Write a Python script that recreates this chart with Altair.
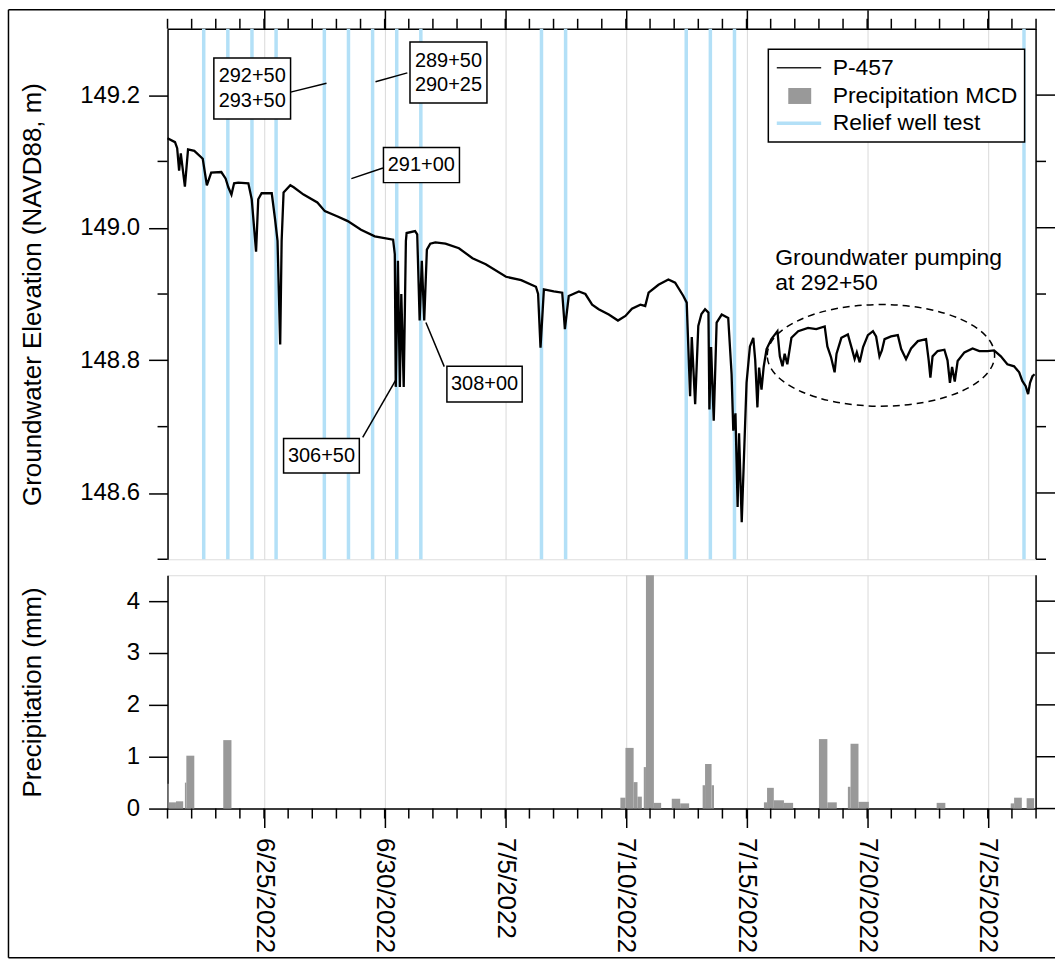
import altair as alt
import pandas as pd

FONT = "Liberation Sans"
T0 = pd.Timestamp("2022-06-21")

# ---------------- P-457 groundwater elevation ----------------
# elapsed days since 2022-06-21 00:00 and elevation (m, NAVD88)
p457_day = [
    0.00, 0.31, 0.40, 0.48, 0.55, 0.72, 0.85, 1.11, 1.46, 1.63, 1.81, 2.23, 2.41, 2.52, 2.65,
    2.76, 2.93, 3.35, 3.49, 3.67, 3.76, 3.90, 4.32, 4.46, 4.56, 4.67, 4.73, 4.81, 5.09, 5.23,
    5.64, 6.21, 6.52, 7.05, 7.47, 8.02, 8.59, 9.35, 9.42, 9.46, 9.55, 9.63, 9.69, 9.79, 9.88,
    9.91, 10.26, 10.35, 10.45, 10.54, 10.64, 10.75, 10.89, 11.10, 11.52, 12.08, 12.64, 13.19,
    14.03, 14.66, 15.27, 15.36, 15.46, 15.60, 16.01, 16.36, 16.47, 16.63, 17.05, 17.32, 17.60,
    17.87, 18.29, 18.67, 18.98, 19.25, 19.60, 19.80, 19.94, 20.35, 20.76, 21.04, 21.38, 21.52,
    21.66, 21.73, 21.87, 22.00, 22.13, 22.28, 22.42, 22.46, 22.53, 22.64, 22.76, 22.97, 23.24,
    23.38, 23.45, 23.54, 23.63, 23.69, 23.80, 23.88, 24.00, 24.14, 24.28, 24.36, 24.45, 24.52,
    24.62, 24.71, 24.83, 25.03, 25.28, 25.38, 25.49, 25.58, 25.69, 25.86, 26.14, 26.55, 26.89,
    27.24, 27.35, 27.50, 27.65, 27.73, 27.93, 28.20, 28.37, 28.48, 28.57, 28.69, 28.83, 29.03,
    29.24, 29.37, 29.51, 29.61, 29.72, 29.99, 30.27, 30.41, 30.61, 30.82, 31.10, 31.44, 31.55,
    31.62, 31.71, 31.92, 32.20, 32.33, 32.43, 32.52, 32.63, 32.75, 33.03, 33.37, 33.65, 33.99,
    34.26, 34.54, 34.81, 35.09, 35.30, 35.43, 35.57, 35.67, 35.75, 35.85, 35.94,
]
p457_elev = [
    149.135, 149.129, 149.120, 149.086, 149.112, 149.062, 149.118, 149.116, 149.104, 149.064,
    149.083, 149.084, 149.074, 149.061, 149.050, 149.067, 149.068, 149.067, 149.043, 148.964,
    149.043, 149.052, 149.052, 149.012, 148.980, 148.824, 148.980, 149.053, 149.064, 149.061,
    149.050, 149.038, 149.025, 149.017, 149.010, 148.997, 148.987, 148.982, 148.960, 148.760,
    148.950, 148.760, 148.900, 148.760, 148.980, 148.992, 148.995, 148.990, 148.860, 148.950,
    148.860, 148.967, 148.976, 148.978, 148.976, 148.969, 148.954, 148.945, 148.926, 148.921,
    148.911, 148.900, 148.819, 148.907, 148.904, 148.902, 148.847, 148.897, 148.904, 148.900,
    148.884, 148.877, 148.869, 148.860, 148.867, 148.878, 148.884, 148.882, 148.902, 148.914,
    148.922, 148.917, 148.897, 148.887, 148.746, 148.835, 148.734, 148.852, 148.870, 148.877,
    148.872, 148.726, 148.820, 148.709, 148.857, 148.869, 148.864, 148.779, 148.694, 148.720,
    148.579, 148.690, 148.556, 148.640, 148.766, 148.821, 148.834, 148.800, 148.729, 148.789,
    148.756, 148.790, 148.817, 148.832, 148.844, 148.806, 148.791, 148.810, 148.794, 148.834,
    148.844, 148.849, 148.847, 148.851, 148.821, 148.805, 148.782, 148.810, 148.834, 148.839,
    148.817, 148.802, 148.812, 148.797, 148.820, 148.838, 148.844, 148.836, 148.806, 148.815,
    148.832, 148.836, 148.838, 148.817, 148.802, 148.818, 148.829, 148.832, 148.800, 148.774,
    148.806, 148.814, 148.816, 148.800, 148.766, 148.790, 148.768, 148.799, 148.812, 148.818,
    148.814, 148.814, 148.815, 148.806, 148.794, 148.791, 148.782, 148.769, 148.761, 148.749,
    148.766, 148.776, 148.779,
]

# ---------------- Precipitation at MCD ----------------
# each bar covers [start, end] in elapsed days since 2022-06-21 00:00
precip_start = [0.00, 0.05, 0.35, 0.72, 0.78, 2.31, 18.77, 18.98, 19.32, 19.48, 19.74, 19.83,
                20.16, 20.90, 21.25, 22.18, 22.28, 22.55, 24.72, 24.85, 25.13, 25.55, 27.00,
                27.35, 28.20, 28.31, 28.64, 31.88, 34.95, 35.09, 35.61]
precip_end = [0.05, 0.35, 0.65, 0.78, 1.11, 2.65, 18.98, 19.32, 19.48, 19.66, 19.83, 20.16,
              20.46, 21.25, 21.62, 22.28, 22.55, 22.65, 24.85, 25.13, 25.55, 25.93, 27.35,
              27.74, 28.31, 28.64, 29.07, 32.24, 35.09, 35.41, 35.92]
precip_mm = [0.48, 0.12, 0.14, 0.50, 1.02, 1.32, 0.21, 1.17, 0.51, 0.23, 0.80, 4.50,
             0.11, 0.19, 0.10, 0.45, 0.86, 0.45, 0.12, 0.40, 0.16, 0.11, 1.34,
             0.12, 0.42, 1.25, 0.13, 0.11, 0.10, 0.21, 0.20]

# ---------------- Relief well tests ----------------
relief_tests = ["2022-06-22 12:00", "2022-06-23 12:00", "2022-06-24 12:00", "2022-06-25 12:00",
                "2022-06-27 12:00", "2022-06-28 12:00", "2022-06-29 12:00", "2022-06-30 12:00",
                "2022-07-01 12:00", "2022-07-06 12:00", "2022-07-07 12:00", "2022-07-12 12:00",
                "2022-07-13 12:00", "2022-07-14 12:00", "2022-07-26 12:00"]

# ---------------- Station call-outs ----------------
# text anchor = centre of the first text line
ann_labels = ["292+50\n293+50", "289+50\n290+25", "291+00", "306+50", "308+00"]
ann_day = [3.51, 11.645, 10.52, 6.38, 13.14]
ann_elev = [149.2286, 149.2513, 149.094, 148.656, 148.764]
box_day0 = [1.92, 10.05, 8.95, 4.81, 11.58]
box_day1 = [5.10, 13.24, 12.10, 7.95, 14.70]
box_elev0 = [149.164, 149.188, 149.068, 148.630, 148.737]
box_elev1 = [149.256, 149.280, 149.121, 148.682, 148.791]
lead_day0 = [5.10, 9.94, 8.93, 8.09, 11.47]
lead_elev0 = [149.2045, 149.2335, 149.090, 148.684, 148.7905]
lead_day1 = [6.59, 8.62, 7.62, 9.47, 10.71]
lead_elev1 = [149.218, 149.220, 149.074, 148.771, 148.857]

pump_label = "Groundwater pumping\nat 292+50"
pump_day, pump_elev = 25.19, 148.955
pump_zone_day, pump_zone_elev = 29.57, 148.8075

legend_labels = ["P-457", "Precipitation MCD", "Relief well test"]

tick_dates = ["2022-06-25", "2022-06-30", "2022-07-05", "2022-07-10",
              "2022-07-15", "2022-07-20", "2022-07-25"]
elev_ticks = [148.6, 148.8, 149.0, 149.2]
elev_minor = [148.5, 148.7, 148.9, 149.1]
rain_ticks = [0, 1, 2, 3, 4]


def stamp(days):
    return [T0 + pd.Timedelta(days=float(d)) for d in days]


gw = pd.DataFrame({"time": stamp(p457_day), "elev": p457_elev})
rain = pd.DataFrame({"start": stamp(precip_start), "end": stamp(precip_end), "mm": precip_mm})
tests = pd.DataFrame({"time": pd.to_datetime(relief_tests)})
ann = pd.DataFrame({
    "label": ann_labels, "cx": stamp(ann_day), "cy": ann_elev,
    "x0": stamp(box_day0), "x1": stamp(box_day1), "y0": box_elev0, "y1": box_elev1,
    "lx0": stamp(lead_day0), "ly0": lead_elev0, "lx1": stamp(lead_day1), "ly1": lead_elev1,
})
pump = pd.DataFrame({"t": stamp([pump_day]), "v": [pump_elev], "label": [pump_label]})
zone = pd.DataFrame({"t": stamp([pump_zone_day]), "v": [pump_zone_elev]})
days = pd.DataFrame({"t": pd.date_range("2022-06-21", "2022-07-27", freq="D")})
one = pd.DataFrame({"k": [0]})
ymin_up = pd.DataFrame({"v": elev_minor})
ymaj_up = pd.DataFrame({"v": elev_ticks})
ymaj_lo = pd.DataFrame({"v": rain_ticks})

W, H1, H2 = 871, 532, 234
BLACK = "#000000"
GRID = "#d9d9d9"
BLUE = "#b3e0f7"
BAR = "#999999"

major_dt = [alt.DateTime(year=d.year, month=d.month, date=d.day) for d in pd.to_datetime(tick_dates)]
xs = alt.Scale(domain=[alt.DateTime(year=2022, month=6, date=21),
                       alt.DateTime(year=2022, month=7, date=27)])
ys_gw = alt.Scale(domain=[148.5, 149.3], nice=False, zero=False)
ys_rain = alt.Scale(domain=[0, 4.5], nice=False)

ax = dict(domainColor=BLACK, domainWidth=1.5, tickColor=BLACK, tickWidth=1.5,
          labelColor=BLACK, titleColor=BLACK, labelFont=FONT, titleFont=FONT,
          titleFontWeight="normal", labelOverlap=False)

# ---------------- upper panel: groundwater ----------------
x_top = alt.Axis(orient="top", values=major_dt, labels=False, tickSize=19, grid=True,
                 gridColor=GRID, gridWidth=1, title=None, **ax)
y_gw = alt.Axis(values=elev_ticks, format=".1f", tickSize=19, labelFontSize=24, labelPadding=9,
                grid=False, title="Groundwater Elevation (NAVD88, m)", titleFontSize=26,
                titleX=-127, titleBaseline="alphabetic", **ax)


def XU(field):
    return alt.X(field, scale=xs, axis=x_top)


def YU(field):
    return alt.Y(field, scale=ys_gw, axis=y_gw)


relief = alt.Chart(tests).mark_rule(color=BLUE, strokeWidth=3.5).encode(x=XU("time:T"))

line = alt.Chart(gw).mark_line(color=BLACK, strokeWidth=2.3).encode(
    x=XU("time:T"), y=YU("elev:Q"))

top_minor = alt.Chart(days).mark_rule(color=BLACK, strokeWidth=1.5).encode(
    x=XU("t:T"), y=alt.value(0), y2=alt.value(-10))
left_minor = alt.Chart(ymin_up).mark_rule(color=BLACK, strokeWidth=1.5).encode(
    y=YU("v:Q"), x=alt.value(0), x2=alt.value(-10))
right_minor = alt.Chart(ymin_up).mark_rule(color=BLACK, strokeWidth=1.5).encode(
    y=YU("v:Q"), x=alt.value(W), x2=alt.value(W + 10))
right_major = alt.Chart(ymaj_up).mark_rule(color=BLACK, strokeWidth=1.5).encode(
    y=YU("v:Q"), x=alt.value(W), x2=alt.value(W + 19))
right_dom_up = alt.Chart(one).mark_rule(color=BLACK, strokeWidth=1.5).encode(
    x=alt.value(W), y=alt.value(0), y2=alt.value(H1))

leaders = alt.Chart(ann).mark_rule(color=BLACK, strokeWidth=1.5).encode(
    x=XU("lx0:T"), x2="lx1:T", y=YU("ly0:Q"), y2="ly1:Q")
boxes = alt.Chart(ann).mark_rect(fill="white", stroke=BLACK, strokeWidth=1.5).encode(
    x=XU("x0:T"), x2="x1:T", y=YU("y0:Q"), y2="y1:Q")
box_text = alt.Chart(ann).mark_text(font=FONT, fontSize=20, lineBreak="\n", lineHeight=24.5,
                                    align="center", baseline="middle", color=BLACK).encode(
    x=XU("cx:T"), y=YU("cy:Q"), text="label:N")

ELLIPSE = "M -1 0 A 1 0.447 0 1 1 1 0 A 1 0.447 0 1 1 -1 0 Z"
zone_mark = alt.Chart(zone).mark_point(shape=ELLIPSE, size=228 * 228, filled=False,
                                       color=BLACK, strokeWidth=1.5, strokeDash=[7, 5],
                                       opacity=1).encode(x=XU("t:T"), y=YU("v:Q"))
pump_text = alt.Chart(pump).mark_text(font=FONT, fontSize=23, lineBreak="\n", lineHeight=26,
                                      align="left", baseline="middle", color=BLACK).encode(
    x=XU("t:T"), y=YU("v:Q"), text="label:N")

# legend, drawn in pixel space of the upper panel
LX0, LX1, LY0, LY1 = 602.5, 859.5, 20.5, 113.5
ROWS = [39, 67.4, 94.8]
legend = [
    alt.Chart(one).mark_rect(fill="white", stroke=BLACK, strokeWidth=1.5).encode(
        x=alt.value(LX0), x2=alt.value(LX1), y=alt.value(LY0), y2=alt.value(LY1)),
    alt.Chart(one).mark_rule(color="#222222", strokeWidth=1.5).encode(
        x=alt.value(611), x2=alt.value(655.5), y=alt.value(ROWS[0])),
    alt.Chart(one).mark_rect(color=BAR).encode(
        x=alt.value(622.5), x2=alt.value(645.5), y=alt.value(ROWS[1] - 8), y2=alt.value(ROWS[1] + 8)),
    alt.Chart(one).mark_rule(color=BLUE, strokeWidth=3.5).encode(
        x=alt.value(611), x2=alt.value(655.5), y=alt.value(ROWS[2])),
]
for lab, ry in zip(legend_labels, ROWS):
    legend.append(alt.Chart(one).mark_text(font=FONT, fontSize=23, align="left",
                                           baseline="middle", color=BLACK).encode(
        x=alt.value(667), y=alt.value(ry), text=alt.value(lab)))

# outer frame (left, top and bottom edges) around the figure
FX0, FX1, FY0, FY1 = -159.5, W + 19, -19, 931.5
frame = [
    alt.Chart(one).mark_rule(color=BLACK, strokeWidth=1.5).encode(
        x=alt.value(FX0), y=alt.value(FY0), y2=alt.value(FY1)),
    alt.Chart(one).mark_rule(color=BLACK, strokeWidth=1.5).encode(
        x=alt.value(FX0), x2=alt.value(FX1), y=alt.value(FY0)),
    alt.Chart(one).mark_rule(color=BLACK, strokeWidth=1.5).encode(
        x=alt.value(FX0), x2=alt.value(FX1), y=alt.value(FY1)),
]

upper = alt.layer(
    relief, line, top_minor, left_minor, right_minor, right_major, right_dom_up,
    leaders, boxes, box_text, zone_mark, pump_text, *legend, *frame,
).properties(width=W, height=H1)

# ---------------- lower panel: precipitation ----------------
x_bot = alt.Axis(orient="bottom", values=major_dt, format="%-m/%-d/%Y", labelAngle=90,
                 labelFontSize=26, labelPadding=10, tickSize=19, grid=True, gridColor=GRID,
                 gridWidth=1, title=None, labelFlush=False, **ax)
y_rain = alt.Axis(values=rain_ticks, format="d", tickSize=19, labelFontSize=24, labelPadding=9,
                  grid=False, title="Precipitation (mm)", titleFontSize=26, titleX=-127,
                  titleBaseline="alphabetic", **ax)


def XL(field):
    return alt.X(field, scale=xs, axis=x_bot)


def YL(field):
    return alt.Y(field, scale=ys_rain, axis=y_rain)


bars = alt.Chart(rain).mark_rect(color=BAR).encode(
    x=XL("start:T"), x2="end:T", y=YL("mm:Q"), y2=alt.datum(0))
bot_minor = alt.Chart(days).mark_rule(color=BLACK, strokeWidth=1.5).encode(
    x=XL("t:T"), y=alt.value(H2), y2=alt.value(H2 + 10))
right_major_lo = alt.Chart(ymaj_lo).mark_rule(color=BLACK, strokeWidth=1.5).encode(
    y=YL("v:Q"), x=alt.value(W), x2=alt.value(W + 19))
right_dom_lo = alt.Chart(one).mark_rule(color=BLACK, strokeWidth=1.5).encode(
    x=alt.value(W), y=alt.value(0), y2=alt.value(H2))

lower = alt.layer(bars, bot_minor, right_major_lo, right_dom_lo).properties(width=W, height=H2)

chart = alt.vconcat(upper, lower, spacing=16, bounds="flush").properties(
    padding={"left": 7, "top": 6.5, "right": 0, "bottom": 1}
).configure_view(stroke=None).configure(font=FONT)

chart.save("out.html", embed_options={"renderer": "svg", "actions": False})
